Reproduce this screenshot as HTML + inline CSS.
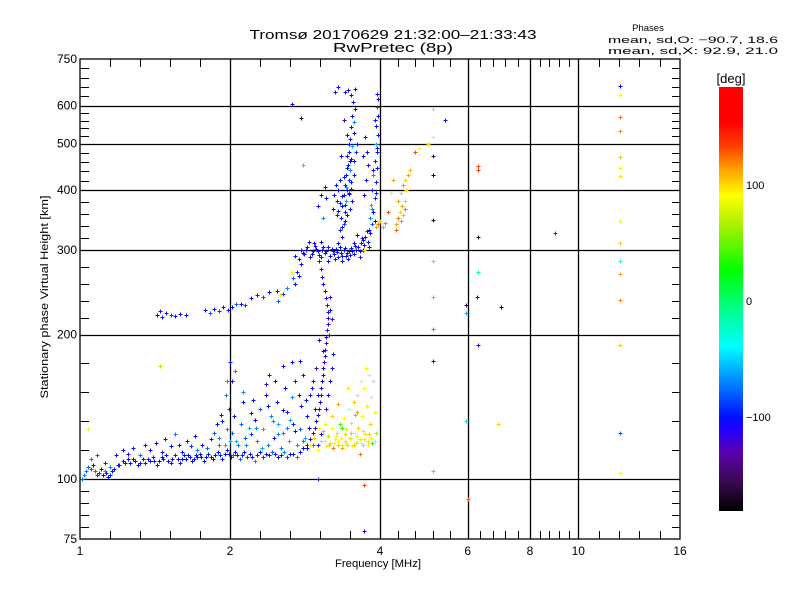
<!DOCTYPE html>
<html><head><meta charset="utf-8"><style>
html,body{margin:0;padding:0;background:#fff;}
svg{display:block;font-family:"Liberation Sans",sans-serif;}
</style></head><body>
<svg id="chart" width="800" height="600" viewBox="0 0 800 600">
<defs>
<linearGradient id="cbar" x1="0" y1="0" x2="0" y2="1">
<stop offset="0" stop-color="#ff0000"/><stop offset="0.083" stop-color="#ff0000"/>
<stop offset="0.139" stop-color="#ff4000"/><stop offset="0.194" stop-color="#ffa000"/>
<stop offset="0.256" stop-color="#ffff00"/><stop offset="0.333" stop-color="#a0f000"/>
<stop offset="0.431" stop-color="#00ff00"/><stop offset="0.528" stop-color="#00ff90"/>
<stop offset="0.611" stop-color="#00ffff"/><stop offset="0.667" stop-color="#00b0ff"/>
<stop offset="0.722" stop-color="#0060ff"/><stop offset="0.778" stop-color="#0010ff"/>
<stop offset="0.806" stop-color="#2000ff"/><stop offset="0.861" stop-color="#5a00b0"/>
<stop offset="0.93" stop-color="#3a0a50"/><stop offset="1" stop-color="#000000"/>
</linearGradient>
</defs>
<text x="393" y="39" text-anchor="middle" font-size="12.5" textLength="287" lengthAdjust="spacingAndGlyphs">Tromsø 20170629 21:32:00–21:33:43</text>
<text x="393" y="52" text-anchor="middle" font-size="12.5" textLength="120" lengthAdjust="spacingAndGlyphs">RwPretec (8p)</text>
<text x="648" y="31" text-anchor="middle" font-size="9.5">Phases</text>
<text x="778" y="43" text-anchor="end" font-size="9.5" textLength="170" lengthAdjust="spacingAndGlyphs">mean, sd,O: −90.7, 18.6</text>
<text x="778" y="54" text-anchor="end" font-size="9.5" textLength="170" lengthAdjust="spacingAndGlyphs">mean, sd,X:  92.9, 21.0</text>
<text transform="translate(48,297) rotate(-90)" text-anchor="middle" font-size="11" textLength="203" lengthAdjust="spacingAndGlyphs">Stationary phase Virtual Height [km]</text>
<text x="378" y="567" text-anchor="middle" font-size="11" textLength="86" lengthAdjust="spacingAndGlyphs">Frequency [MHz]</text>
<g id="grid"></g>
<g id="points"></g>
<rect x="80" y="59" width="600" height="480" fill="none" stroke="#000" stroke-width="1.3"/>
<g id="ticks"></g>
<rect x="719" y="87" width="24" height="424" fill="url(#cbar)"/>
<text x="731" y="83" text-anchor="middle" font-size="13">[deg]</text>
<text x="746" y="189" font-size="11">100</text>
<text x="746" y="305" font-size="11">0</text>
<text x="746" y="421" font-size="11">−100</text>
</svg>
<script>
const xTickVals=[1,2,4,6,8,10,16];
const xTickLabels=["1","2","4","6","8","10","16"];
const yTickVals=[75,100,200,300,400,500,600,750];
const yTickLabels=["75","100","200","300","400","500","600","750"];
const xGridVals=[2,4,6,8,10];
const yGridVals=[100,200,300,400,500,600];

const eF=[1.01,1.03,1.05,1.07,1.09,1.11,1.13,1.15,1.17,1.20,1.23,1.26,1.29,1.32,1.35,1.38,1.41,1.44,1.47,1.50,1.53,1.57,1.60,1.63,1.66,1.69,1.72,1.75,1.79,1.83,1.87,1.91,1.95,1.99,2.03,2.07,2.11,2.16,2.21,2.27,2.33,2.39,2.46,2.53,2.60,2.68,2.76,2.85];
const eH=[100,104,105,104,103,102,103,102,105,107,108,108,109,108,108,109,109,109,110,109,110,110,110,110,111,110,111,111,111,111,112,112,113,113,112,112,112,111,111,112,111,112,113,112,111,113,114,116];
const eP=[-75,-75,-80,-75,-90,-100,-100,-95,-100,-100,-105,-100,-100,-110,-100,-100,-105,-100,-100,-100,-110,-100,-100,-100,-105,-100,-100,-110,-100,-100,-100,-95,-100,-100,-80,-100,-100,-90,-100,-100,-95,-100,-100,-100,-90,-100,-100,-100];

const e2F=[1.02,1.04,1.06,1.08,1.10,1.12,1.14,1.16,1.19,1.22,1.25,1.28,1.31,1.34,1.37,1.40,1.43,1.46,1.49,1.52,1.55,1.59,1.62,1.65,1.68,1.71,1.74,1.77,1.81,1.85,1.89,1.93,1.97,2.01,2.05,2.09,2.13,2.19,2.24,2.30,2.36,2.43,2.50,2.57,2.64,2.72,2.80];
const e2H=[102,106,107,102,105,104,101,104,107,109,110,110,107,110,110,111,107,111,112,108,112,108,112,112,109,112,113,109,113,110,114,110,115,111,114,110,114,113,109,114,113,114,111,114,113,111,116];
const e2P=[-70,-80,-100,-90,-100,-70,-100,-100,-100,-110,-100,-100,-100,-100,-110,-100,-100,-100,-100,-100,-100,-105,-100,-110,-100,-100,-100,-100,-100,-105,-100,-100,-100,-110,-100,-80,-100,-100,-70,-100,-100,-80,-100,-70,-100,-75,-100];

const esF=[1.05,1.08,1.12,1.15,1.18,1.22,1.25,1.28,1.32,1.35,1.38,1.42,1.46,1.48,1.52,1.55,1.58,1.6,1.64,1.67,1.7,1.72,1.76,1.8,1.83,1.86,1.88,1.9,1.93,1.95,1.97,1.99,2.02,2.04,2.06,2.1,2.12,2.15,2.18,2.2,2.24,2.27,2.3,2.33,2.36,2.38,2.42,2.45,2.48,2.5,2.53,2.56,2.58,2.6,2.63,2.66,2.68,2.7,2.73,2.76,2.78,2.8,2.83,2.86,2.9,2.93,2.96,2.98,2.0,2.05,1.97];
const esH=[110,112,108,106,112,115,113,116,112,118,115,119,114,121,117,124,118,114,120,117,123,115,118,116,121,125,130,122,132,118,127,140,125,135,120,130,145,118,128,124,133,120,140,127,150,118,135,122,145,130,116,125,155,138,120,148,130,160,118,127,142,165,122,135,150,118,128,170,175,168,160];
const esP=[-75,-80,-95,-70,-100,-100,-110,-100,-80,-100,-110,-100,-105,-100,-100,-75,-110,-100,-100,-90,-100,-70,-100,-80,-100,-80,-100,-70,-100,-60,-70,-100,-80,-100,-60,-80,-100,-70,-60,-90,-100,-70,-80,-60,-120,-75,-70,-100,-110,-60,-75,-70,-100,-110,-60,-70,-100,-110,-70,-80,-110,-100,-60,-100,-110,-75,-70,-100,-100,-70,-70];

const es2F=[1.9,1.92,1.96,2.0,2.02,2.08,2.14,2.2,2.26,2.32,2.38,2.44,2.5,2.55,2.6,2.64,2.7,2.75,2.8,2.84,2.88,2.92,2.22,2.36,2.46,2.56,2.66,2.76,2.12,2.4];
const es2H=[118,136,150,120,160,118,122,137,128,116,142,132,124,139,128,133,126,150,120,146,128,155,146,158,160,172,175,176,152,165];
const es2P=[-70,-100,-70,-60,-100,-70,-80,-100,-70,-60,-100,-70,-70,-100,-70,-60,-100,-110,-70,-100,-100,-110,-100,-110,-100,-110,-100,-110,-70,-100];

const cF=[2.86,2.9,2.93,2.96,2.98,3.0,3.02,3.03,3.05,3.04,3.06,3.08,3.07,3.09,3.1,3.1,3.12,3.11,3.13,3.14,3.15,3.14,3.13,3.12,3.1,3.08,3.06,3.04,3.02,2.96,3.0,3.08,3.16,3.2,3.17,2.93,2.98,3.02,3.18,3.0,3.05,3.1,3.12,3.14,3.17,3.2,3.22];
const cH=[118,121,125,128,132,136,140,145,150,155,160,165,170,175,180,186,192,198,204,210,216,223,230,238,246,255,264,274,284,140,150,185,200,215,240,160,170,195,225,118,124,130,140,150,160,170,182];
const cP=[-110,-120,-115,-130,-110,-120,-125,-110,-120,-130,-115,-120,-110,-125,-120,-110,-125,-120,-130,-115,-120,-110,-125,-120,-110,-115,-120,-110,-105,-100,-110,-110,-100,-120,-115,-120,-130,-110,-100,-115,-120,-110,-125,-110,-100,-120,-100];

const flF=[2.7,2.75,2.78,2.82,2.86,2.9,2.94,2.98,3.02,3.06,3.1,3.14,3.18,3.22,3.26,3.3,3.34,3.38,3.42,3.46,3.5,3.54,3.58,3.62,3.66,3.7,3.74,3.78,3.82,2.88,2.95,3.05,3.15,3.25,3.35,3.45,3.55,3.65,2.78,2.72,2.68,3.6,3.7,3.8,2.66];
const flH=[292,288,300,295,305,290,298,302,293,300,296,304,292,298,302,290,296,300,292,298,303,295,300,305,310,315,320,312,325,312,310,312,285,288,285,288,310,290,280,270,262,322,300,305,270];
const flP=[-100,-120,-100,-110,-100,-110,-100,-120,-100,-110,-100,-105,-110,-100,-115,-100,-105,-100,-110,-100,-105,-100,-110,-100,-105,-100,-110,-100,-105,-100,-110,-100,-110,-120,-100,-110,-100,-110,-110,-100,-80,-100,-110,-100,90];

const fl2F=[2.8,2.84,2.92,2.96,3.0,3.04,3.08,3.12,3.2,3.24,3.28,3.32,3.36,3.4,3.44,3.48,3.52,3.56,3.64,3.68,3.72,3.76];
const fl2H=[296,300,294,306,298,290,304,299,301,294,297,305,292,303,296,293,299,306,298,318,308,328];
const fl2P=[-100,-110,-100,-100,-110,-100,-100,-110,-100,-100,-110,-100,-100,-105,-100,-110,-100,-100,-100,-110,-100,-100];

const frF=[3.3,3.35,3.32,3.38,3.34,3.4,3.36,3.42,3.38,3.44,3.4,3.46,3.42,3.48,3.45,3.5,3.47,3.52,3.49,3.54,3.5,3.55,3.52,3.56,3.53,3.5,3.45,3.4,3.28,3.24,3.3,3.26,3.32,3.28,3.33,3.22,3.55,3.58,3.6,3.44,3.38,3.25,3.3,3.56,3.8,3.85,3.82,3.88,3.84,3.9,3.86,3.92,3.88,3.94,3.9,3.95,3.92,3.96,3.93,3.97,3.94,3.96,3.95,3.72,3.75,3.78,3.76,3.74,3.7,3.05,3.1,3.0,3.12,3.08,2.8];
const frH=[310,320,330,340,350,360,370,380,390,400,410,420,430,440,450,465,480,495,510,525,540,555,570,590,610,630,645,640,380,390,400,410,375,355,420,365,460,480,500,520,560,640,655,650,330,340,350,360,372,385,400,415,430,445,460,480,500,520,545,570,595,620,635,390,420,450,480,515,470,390,405,370,385,350,450];
const frP=[-100,-110,-100,-90,-100,-110,-100,-60,-100,-110,-100,-90,-100,-70,-100,-110,-100,-60,-100,-110,-100,-70,-100,-110,-100,-100,-110,-100,-110,-100,-120,-100,-100,-110,-100,-110,-100,-90,-100,-100,-110,-110,-100,-100,-100,-80,-70,-100,-60,-100,-110,-100,-70,-100,-110,-100,-60,-100,-110,-100,-80,-100,-100,-110,-100,-120,-110,-100,-100,-100,-110,-120,-100,-70,-50];

const fr2F=[3.36,3.4,3.44,3.48,3.52,3.46,3.42,3.5,3.54,3.38,3.44,3.48,3.34,3.3,3.36,3.4,3.46,3.5,3.43,3.47,3.9,3.86,3.92,3.88,3.94,3.9];
const fr2H=[335,345,355,365,380,395,405,415,430,425,445,460,470,362,388,372,392,402,470,500,345,365,395,440,490,560];
const fr2P=[-100,-110,-100,-100,-110,-100,-70,-100,-110,-100,-100,-110,-100,-100,-110,-100,-100,-110,-100,-100,-100,-70,-100,-100,-110,-100];

const bF=[1.43,1.46,1.49,1.52,1.55,1.59,1.63,1.78,1.82,1.86,1.9,1.94,1.98,2.02,2.06,2.1,2.14,2.2,2.27,2.33,2.4,2.48,2.55,2.6,2.5,2.7,2.75,2.52,1.45];
const bH=[220,218,222,220,219,221,220,225,222,226,224,228,225,228,231,232,230,238,242,240,245,246,243,250,235,255,265,242,224];
const bP=[-100,-110,-100,-90,-100,-110,-100,-100,-80,-100,-90,-100,-110,-100,-80,-100,-90,-100,-110,-90,-100,-100,-90,-70,-80,-110,-100,80,-110];

const yF=[2.9,2.95,3.0,3.05,3.08,3.12,3.15,3.18,3.2,3.22,3.25,3.28,3.3,3.32,3.34,3.36,3.38,3.4,3.42,3.44,3.46,3.48,3.5,3.52,3.54,3.56,3.58,3.6,3.62,3.64,3.66,3.68,3.7,3.72,3.74,3.76,3.78,3.8,3.82,3.84,3.86,3.88,3.9,3.92,3.3,3.2,3.1,3.45,3.6,3.35,3.65,3.02,3.75];
const yH=[118,122,115,120,126,117,123,119,128,116,121,125,118,130,122,116,134,120,127,118,140,122,131,117,145,125,119,150,128,121,160,135,118,155,124,142,120,165,130,148,119,160,138,125,143,135,130,155,138,128,113,128,170];
const yP=[80,100,90,70,110,90,60,95,85,120,90,70,100,40,90,110,85,95,75,100,90,60,95,85,100,90,70,95,100,80,90,85,100,90,95,80,95,90,100,85,30,95,90,60,110,100,80,95,110,30,120,90,90];

const y2F=[3.1,3.16,3.24,3.3,3.36,3.42,3.48,3.54,3.6,3.66,3.72,3.78,3.84,3.9,3.4,3.5,3.6,3.7,3.8,3.26,3.56];
const y2H=[120,118,119,120,118,119,121,118,120,119,121,118,122,120,124,125,123,126,124,123,136];
const y2P=[90,100,85,90,95,80,90,100,85,90,95,90,85,95,100,60,90,70,100,90,110];

const oF=[3.92,3.96,4.0,4.05,4.1,4.3,4.35,4.38,4.4,4.42,4.45,4.48,4.5,4.35,4.4,4.45,4.5,4.55,4.52,4.3,4.6,4.2,4.25,4.15];
const oH=[335,340,345,335,342,340,350,360,345,370,355,380,365,380,395,410,420,430,400,330,440,395,420,360];
const oP=[110,120,100,110,120,110,120,100,115,110,105,100,120,110,100,115,100,110,95,125,105,90,110,130];

const sF=[12.1,12.1,12.1,12.1,12.1,12.1,12.1,12.1,12.1,12.1,12.1,12.1,12.1,12.1,12.1,6.3,6.3,6.3,7.0,9.0,5.95,5.95,5.95,6.0,5.1,5.1,5.1,5.1,5.1,5.1,5.1,5.1,5.1,5.1,6.3,6.3,3.72,3.72,3.72,3.0,2.66,2.78,6.9,5.4,5.0,4.8,4.7,1.45,1.04,6.25];
const sH=[660,630,568,530,468,445,428,345,310,285,268,236,190,125,103,448,440,320,228,325,230,222,132,91,347,430,470,515,590,104,285,240,205,176,190,270,78,97,300,100,605,566,130,560,500,490,480,172,127,240];
const sP=[-100,90,120,115,60,90,95,90,100,-40,110,115,100,-80,90,130,135,-170,-170,-90,-160,-60,-50,125,-170,-170,-160,90,70,40,50,-10,-60,-120,-130,-20,-100,130,95,-130,-110,-170,100,-100,100,90,130,60,80,-150];

const seriesF=[eF,e2F,esF,es2F,cF,flF,fl2F,frF,fr2F,bF,yF,y2F,oF,sF];
const seriesH=[eH,e2H,esH,es2H,cH,flH,fl2H,frH,fr2H,bH,yH,y2H,oH,sH];
const seriesP=[eP,e2P,esP,es2P,cP,flP,fl2P,frP,fr2P,bP,yP,y2P,oP,sP];
const seriesNames=['e-layer-trace','e-layer-trace-2','e-layer-scatter','e-layer-scatter-2','cusp-trace','f-layer-trace','f-layer-trace-2','f-layer-rise','f-layer-rise-2','low-f-branch','x-mode-e-cluster','x-mode-e-cluster-2','x-mode-f-cluster','sparse-echoes'];

const NS='http://www.w3.org/2000/svg';
function xS(f){return 80+150*Math.log2(f);}
function yS(h){return 539-480*Math.log10(h/75);}
const stops=[[-180,[0,0,0]],[-160,[50,0,80]],[-140,[90,0,180]],[-120,[40,0,240]],[-100,[0,16,255]],[-80,[0,96,255]],[-60,[0,176,255]],[-40,[0,255,255]],[-10,[0,255,144]],[25,[0,255,0]],[60,[160,240,0]],[88,[255,255,0]],[110,[255,160,0]],[130,[255,64,0]],[150,[255,0,0]],[180,[255,0,0]]];
function col(p){
  if(p<=stops[0][0])return 'rgb(0,0,0)';
  for(let i=1;i<stops.length;i++){
    if(p<=stops[i][0]){const a=stops[i-1],b=stops[i];const t=(p-a[0])/(b[0]-a[0]);
      const c=a[1].map((v,k)=>Math.round(v+(b[1][k]-v)*t));return 'rgb('+c.join(',')+')';}
  }
  return 'rgb(255,0,0)';
}
function mk(tag,attrs,parent){const e=document.createElementNS(NS,tag);for(const k in attrs)e.setAttribute(k,attrs[k]);parent.appendChild(e);return e;}

const grid=document.getElementById('grid');
xGridVals.forEach(v=>{const x=Math.round(xS(v))+0.5;
  const l=mk('line',{x1:x,y1:59,x2:x,y2:539,stroke:'#000','stroke-width':1.3},grid);
  
  });
yGridVals.forEach(v=>{const y=Math.round(yS(v))+0.5;
  const l=mk('line',{x1:80,y1:y,x2:680,y2:y,stroke:'#000','stroke-width':1.3},grid);
  
  });

const ticks=document.getElementById('ticks');
for(let i=0;i<xTickVals.length-1;i++){const a=xS(xTickVals[i]),b=xS(xTickVals[i+1]);
  for(let k=1;k<5;k++){const x=Math.round(a+(b-a)*k/5)+0.5;
    const t1=mk('line',{x1:x,y1:539,x2:x,y2:531,stroke:'#000'},ticks);
    
    
    const t2=mk('line',{x1:x,y1:59,x2:x,y2:67,stroke:'#000'},ticks);
    
    }}
for(let i=0;i<yTickVals.length-1;i++){const a=yS(yTickVals[i]),b=yS(yTickVals[i+1]);
  for(let k=1;k<5;k++){const y=Math.round(a+(b-a)*k/5)+0.5;
    const t1=mk('line',{x1:80,y1:y,x2:89,y2:y,stroke:'#000'},ticks);
    
    
    const t2=mk('line',{x1:672,y1:y,x2:680,y2:y,stroke:'#000'},ticks);
    
    }}
xTickVals.forEach((v,i)=>{const t=mk('text',{x:xS(v),y:555,'text-anchor':'middle','font-size':12},ticks);
  t.textContent=xTickLabels[i];
  
  });
yTickVals.forEach((v,i)=>{const t=mk('text',{x:77,y:yS(v)+4,'text-anchor':'end','font-size':12},ticks);
  t.textContent=yTickLabels[i];
  
  });

const pts=document.getElementById('points');
seriesF.forEach((F,s)=>{
  const g=mk('g',{},pts);
  
  
  F.forEach((f,i)=>{
    const x=Math.round(xS(f))+0.5,y=Math.round(yS(seriesH[s][i]))+0.5;
    const p=mk('path',{d:`M${x-2} ${y}H${x+2}M${x} ${y-2}V${y+2}`,stroke:col(seriesP[s][i]),'stroke-width':1.2,fill:'none','shape-rendering':'crispEdges'},g);
    
    
  });
});
</script>
</body></html>
